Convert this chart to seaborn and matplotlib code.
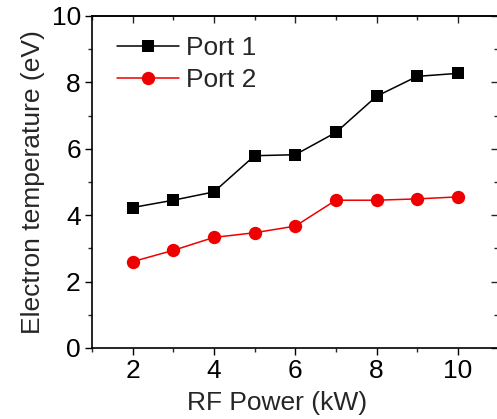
import matplotlib
matplotlib.use("Agg")
import matplotlib.pyplot as plt
import seaborn as sns
import pandas as pd
from matplotlib.ticker import MultipleLocator

power_kw = [2, 3, 4, 5, 6, 7, 8, 9, 10]
port1 = [4.23, 4.45, 4.70, 5.79, 5.82, 6.49, 7.58, 8.18, 8.27]
port2 = [2.60, 2.94, 3.33, 3.47, 3.67, 4.45, 4.45, 4.49, 4.55]
series_names = ["Port 1", "Port 2"]

sns.set_theme(style="ticks")
plt.rcParams["font.family"] = ["Liberation Sans", "DejaVu Sans"]

df1 = pd.DataFrame({"power": power_kw, "te": port1})
df2 = pd.DataFrame({"power": power_kw, "te": port2})

fig = plt.figure(figsize=(4.97, 4.19), dpi=100)
ax = fig.add_axes([0.185, 0.1695, 1.003 - 0.185, 0.962 - 0.1695])

sns.lineplot(data=df1, x="power", y="te", color="black", marker="s",
             markersize=8.2, markeredgewidth=0, linewidth=1.1, label=series_names[0], ax=ax)
sns.lineplot(data=df2, x="power", y="te", color="#ee0000", marker="o",
             markersize=9.6, markeredgewidth=0, linewidth=1.1, label=series_names[1], ax=ax)

ax.set_xlim(1, 11)
ax.set_ylim(0, 10)
ax.xaxis.set_major_locator(MultipleLocator(2))
ax.xaxis.set_minor_locator(MultipleLocator(1))
ax.yaxis.set_major_locator(MultipleLocator(2))
ax.yaxis.set_minor_locator(MultipleLocator(1))
ax.tick_params(which="major", direction="out", length=5, width=1, labelsize=19, colors="black", pad=3)
ax.tick_params(which="minor", direction="out", length=3, width=1)

for s in ["left", "bottom", "top", "right"]:
    ax.spines[s].set_visible(True)
    ax.spines[s].set_linewidth(1.2)
    ax.spines[s].set_color("black")

top = ax.secondary_xaxis("top")
top.xaxis.set_major_locator(MultipleLocator(2))
top.xaxis.set_minor_locator(MultipleLocator(1))
top.tick_params(which="major", direction="in", length=5, width=1, labeltop=False)
top.tick_params(which="minor", direction="in", length=3, width=1)
right = ax.secondary_yaxis("right")
right.yaxis.set_major_locator(MultipleLocator(2))
right.yaxis.set_minor_locator(MultipleLocator(1))
right.tick_params(which="major", direction="in", length=5, width=1, labelright=False)
right.tick_params(which="minor", direction="in", length=3, width=1)

ax.set_xlabel("RF Power (kW)", fontsize=19)
ax.xaxis.set_label_coords(0.455, -0.187)
ax.xaxis.label.set_verticalalignment("baseline")
ax.set_ylabel("Electron temperature (eV)", fontsize=19, labelpad=5)

leg = ax.legend(loc="upper left", frameon=False, fontsize=19, handlelength=2.35,
                handletextpad=0.3, labelspacing=0.3, borderaxespad=0.3,
                bbox_to_anchor=(0.015, 0.995))

fig.savefig("out.png", dpi=100)
